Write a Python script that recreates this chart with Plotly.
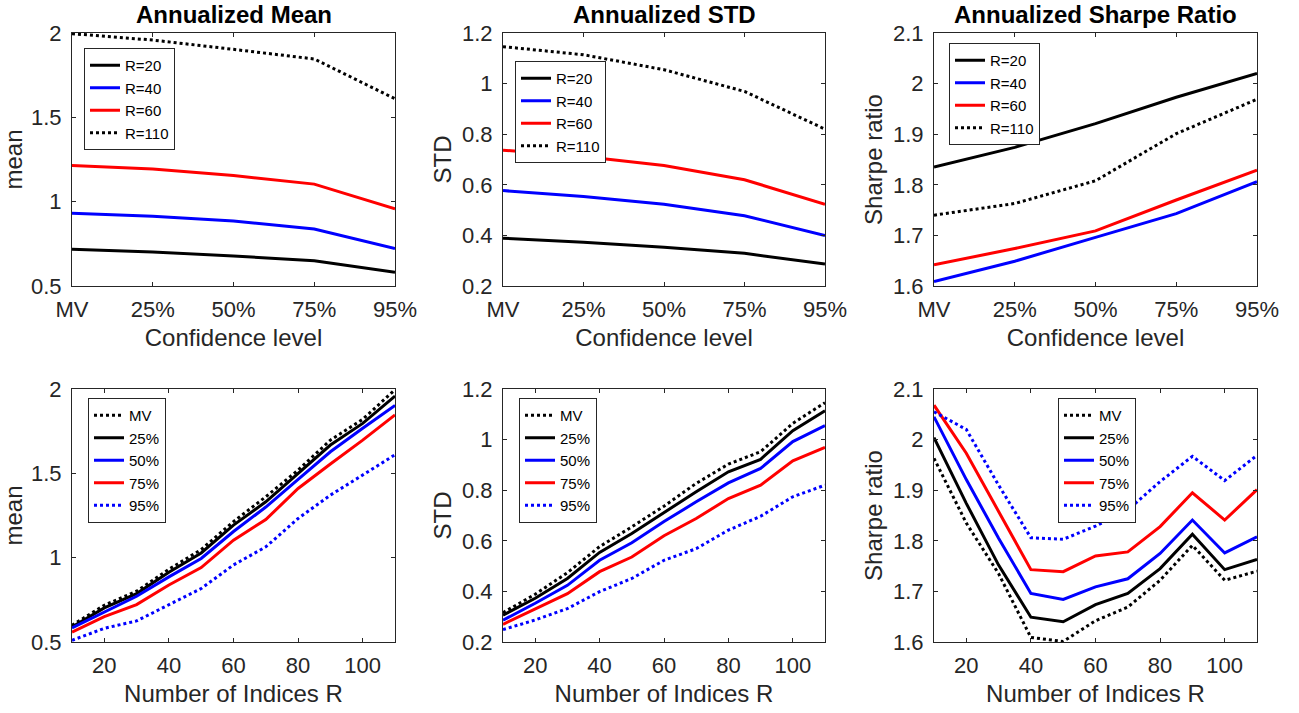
import plotly.graph_objects as go

# ---------------- data ----------------
conf_labels = ["MV", "25%", "50%", "75%", "95%"]
R_values = [10, 20, 30, 40, 50, 60, 70, 80, 90, 100, 110]
R_selected = [20, 40, 60, 110]

mean_MV = [0.599, 0.718, 0.801, 0.931, 1.048, 1.214, 1.361, 1.519, 1.697, 1.820, 1.996]
mean_25 = [0.589, 0.702, 0.787, 0.914, 1.028, 1.193, 1.331, 1.500, 1.668, 1.796, 1.958]
mean_50 = [0.583, 0.678, 0.771, 0.886, 0.995, 1.155, 1.300, 1.464, 1.628, 1.767, 1.903]
mean_75 = [0.559, 0.650, 0.722, 0.838, 0.941, 1.104, 1.226, 1.410, 1.555, 1.697, 1.846]
mean_95 = [0.510, 0.581, 0.625, 0.722, 0.817, 0.957, 1.064, 1.232, 1.371, 1.490, 1.610]

std_MV = [0.316, 0.389, 0.474, 0.577, 0.655, 0.737, 0.827, 0.903, 0.952, 1.064, 1.146]
std_25 = [0.306, 0.373, 0.451, 0.554, 0.629, 0.712, 0.794, 0.873, 0.922, 1.035, 1.114]
std_50 = [0.286, 0.353, 0.424, 0.523, 0.592, 0.676, 0.754, 0.829, 0.886, 0.992, 1.055]
std_75 = [0.270, 0.329, 0.391, 0.478, 0.536, 0.620, 0.688, 0.767, 0.820, 0.916, 0.969]
std_95 = [0.249, 0.287, 0.332, 0.399, 0.451, 0.523, 0.569, 0.642, 0.697, 0.774, 0.820]

sharpe_MV = [1.963, 1.835, 1.735, 1.609, 1.601, 1.642, 1.669, 1.722, 1.791, 1.722, 1.740]
sharpe_25 = [2.004, 1.874, 1.752, 1.649, 1.640, 1.674, 1.696, 1.745, 1.813, 1.743, 1.763]
sharpe_50 = [2.045, 1.921, 1.805, 1.696, 1.684, 1.709, 1.725, 1.775, 1.841, 1.776, 1.808]
sharpe_75 = [2.068, 1.973, 1.858, 1.743, 1.739, 1.770, 1.778, 1.828, 1.895, 1.841, 1.901]
sharpe_95 = [2.055, 2.020, 1.910, 1.806, 1.803, 1.829, 1.861, 1.917, 1.967, 1.919, 1.969]

panel_titles = ["Annualized Mean", "Annualized STD", "Annualized Sharpe Ratio"]
y_titles = ["mean", "STD", "Sharpe ratio"]

# ---------------- style ----------------
FONT = "Liberation Sans, Arial, Helvetica, sans-serif"
AX = "#262626"
W, H = 1299, 713
col_px = [(72, 395), (503, 825), (934, 1257)]
row_px = [(33, 286), (389, 642)]
yranges = [(0.5, 2.0, 0.5), (0.2, 1.2, 0.2), (1.6, 2.1, 0.1)]

conf_style = [
    dict(color="black", dash="dot"),
    dict(color="black", dash="solid"),
    dict(color="blue", dash="solid"),
    dict(color="red", dash="solid"),
    dict(color="blue", dash="dot"),
]
R_style = [
    dict(color="black", dash="solid"),
    dict(color="blue", dash="solid"),
    dict(color="red", dash="solid"),
    dict(color="black", dash="dot"),
]

metrics = [
    [mean_MV, mean_25, mean_50, mean_75, mean_95],
    [std_MV, std_25, std_50, std_75, std_95],
    [sharpe_MV, sharpe_25, sharpe_50, sharpe_75, sharpe_95],
]

legend_pos = [(84, 48), (515, 61), (949, 43), (88, 398), (519, 398), (1058, 398)]

fig = go.Figure()
layout = dict(
    width=W, height=H, margin=dict(l=0, r=0, t=0, b=0),
    paper_bgcolor="white", plot_bgcolor="white",
    font=dict(family=FONT, color=AX), annotations=[],
)

LW = 3
for r in range(2):
    for c in range(3):
        k = r * 3 + c + 1
        xa = "x" if k == 1 else f"x{k}"
        ya = "y" if k == 1 else f"y{k}"
        lg = "legend" if k == 1 else f"legend{k}"
        series = metrics[c]
        if r == 0:
            for j, R in enumerate(R_selected):
                idx = R_values.index(R)
                fig.add_trace(go.Scatter(
                    x=conf_labels, y=[s[idx] for s in series], mode="lines",
                    name=f"R={R}", line=dict(width=LW, **R_style[j]),
                    xaxis=xa, yaxis=ya, legend=lg))
        else:
            for j, lab in enumerate(conf_labels):
                fig.add_trace(go.Scatter(
                    x=R_values, y=series[j], mode="lines", name=lab,
                    line=dict(width=LW, **conf_style[j]),
                    xaxis=xa, yaxis=ya, legend=lg))

        x0, x1 = col_px[c]
        yt, yb = row_px[r]
        common = dict(
            showline=True, linecolor=AX, linewidth=1, mirror="ticks",
            ticks="inside", ticklen=4, tickcolor=AX, tickwidth=1,
            showgrid=False, zeroline=False,
            tickfont=dict(family=FONT, size=22, color=AX),
            automargin=False,
        )
        xname = "xaxis" if k == 1 else f"xaxis{k}"
        yname = "yaxis" if k == 1 else f"yaxis{k}"
        xdict = dict(common, domain=[x0 / W, x1 / W], anchor=ya,
                     ticklabelstandoff=4,
                     title=dict(text="Confidence level" if r == 0 else "Number of Indices R",
                                font=dict(family=FONT, size=24, color=AX), standoff=7))
        if r == 0:
            xdict.update(type="category", range=[0, 4])
        else:
            xdict.update(type="linear", range=[10, 110], tickvals=[20, 40, 60, 80, 100])
        lo, hi, dt = yranges[c]
        ydict = dict(common, domain=[1 - yb / H, 1 - yt / H], anchor=xa,
                     range=[lo, hi], dtick=dt, tick0=lo, ticklabelstandoff=5,
                     title=dict(text=y_titles[c],
                                font=dict(family=FONT, size=24, color=AX), standoff=3))
        layout[xname] = xdict
        layout[yname] = ydict

        lx, ly = legend_pos[k - 1]
        layout[lg] = dict(
            x=lx / W, y=1 - ly / H, xanchor="left", yanchor="top",
            xref="paper", yref="paper",
            bgcolor="white", bordercolor=AX, borderwidth=1,
            font=dict(family=FONT, size=15, color="black"),
            tracegroupgap=0,
        )

        if r == 0:
            layout["annotations"].append(dict(
                text=f"<b>{panel_titles[c]}</b>", x=(x0 + x1) / 2 / W, y=1 - 15 / H,
                xref="paper", yref="paper", xanchor="center", yanchor="middle",
                showarrow=False, font=dict(family=FONT, size=24, color="black")))

fig.update_layout(**layout)
fig.write_html("out.html")
